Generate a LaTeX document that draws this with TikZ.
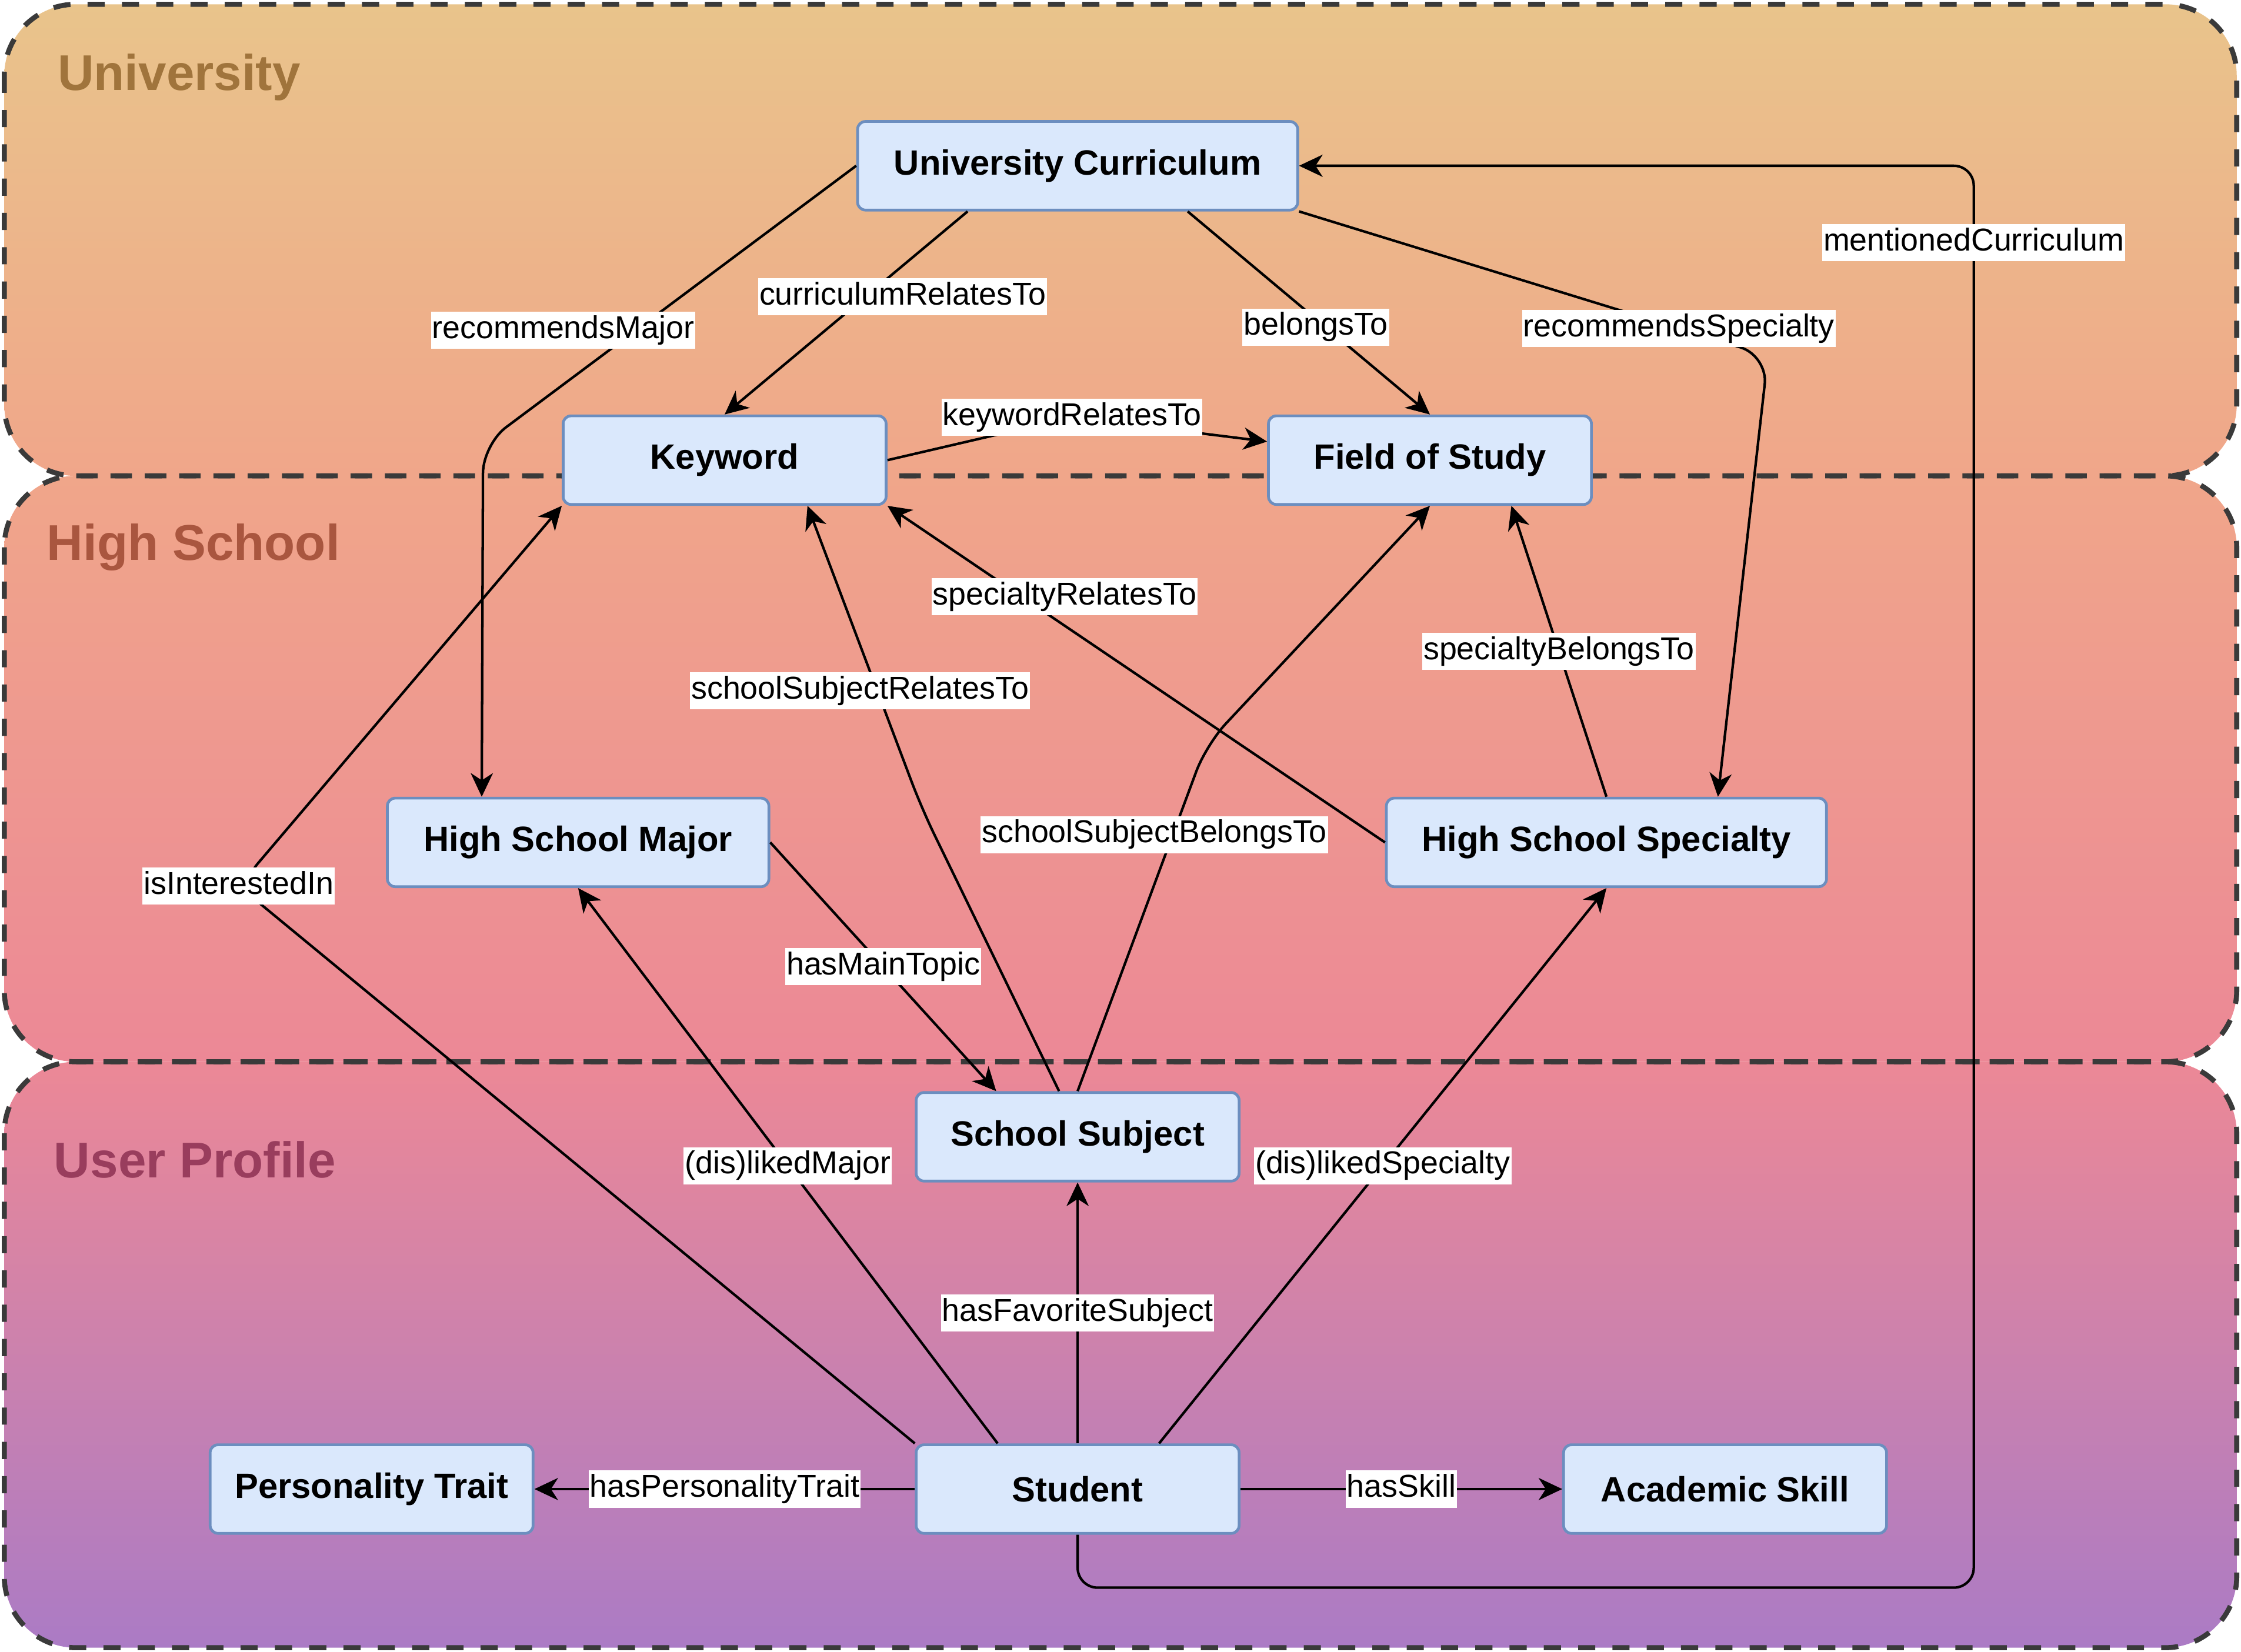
\documentclass[tikz,border=0pt]{standalone}
\usepackage{fontspec}
\setmainfont{Liberation Sans}
\usepackage{tikz}
\usetikzlibrary{positioning,calc,arrows.meta}
\definecolor{boxfill}{HTML}{DAE8FC}
\definecolor{boxline}{HTML}{6C8EBF}
\definecolor{laneline}{HTML}{3A3A3A}
\definecolor{uniTop}{HTML}{E9C48B}
\definecolor{uniBottom}{HTML}{F0A68A}
\definecolor{hsBottom}{HTML}{EC8896}
\definecolor{upBottom}{HTML}{AB7BC5}
\definecolor{uniText}{HTML}{A0743C}
\definecolor{hsText}{HTML}{A9563F}
\definecolor{upText}{HTML}{993D5D}
\tikzset{
	concept/.style={draw=boxline, fill=boxfill, line width=1.1pt, rounded corners=0.11cm, minimum height=1.24cm, minimum width=4.52cm, inner sep=0, font=\fontsize{14}{16}\selectfont\bfseries},
	widebox/.style={minimum width=6.16cm},
	midbox/.style={minimum width=5.34cm},
	rel/.style={draw, line width=1pt, -{Stealth[length=0.33cm, width=0.31cm, inset=0.1cm]}, rounded corners=0.4cm},
	lbl/.style={sharp corners, fill=white, inner xsep=0.5pt, inner ysep=1pt, text height=9.6pt, text depth=3.2pt, font=\fontsize{12.6}{15}\selectfont},
	lane/.style={draw=laneline, line width=2pt, dash pattern=on 0.24cm off 0.24cm, rounded corners=1cm},
	lanetitle/.style={anchor=base west, inner sep=0, font=\fontsize{20}{24}\selectfont\bfseries}
}

\begin{document}
\begin{tikzpicture}[x=0.02cm, y=-0.02cm]
	\useasboundingbox (0,0) rectangle (1568,1156);
	
	\path[top color=uniTop, bottom color=uniBottom, rounded corners=1cm] (3,3) rectangle (1565,333);
	\path[top color=uniBottom, bottom color=hsBottom, rounded corners=1cm] (3,333) rectangle (1565,743);
	\path[top color=hsBottom, bottom color=upBottom, rounded corners=1cm] (3,743) rectangle (1565,1153);
	\draw[lane] (3,3) rectangle (1565,333);
	\draw[lane] (3,333) rectangle (1565,743);
	\draw[lane] (3,743) rectangle (1565,1153);
	
	\node[lanetitle, text=uniText] (uniTitle) at (40,63) {University};
	\node[lanetitle, text=hsText] (hsTitle) at (32.5,392) {High School};
	\node[lanetitle, text=upText] (upTitle) at (37.5,824) {User Profile};
	
	\node[concept, widebox] (uc) at (754,116) {University Curriculum};
	\node[concept] (kw) at (507,322) {Keyword};
	\node[concept] (fos) at (1000.5,322) {Field of Study};
	\node[concept, midbox] (hsm) at (404.5,589.5) {High School Major};
	\node[concept, widebox] (hss) at (1124,589.5) {High School Specialty};
	\node[concept] (ss) at (754,795.5) {School Subject};
	\node[concept] (pt) at (260,1042) {Personality Trait};
	\node[concept] (st) at (754,1042) {Student};
	\node[concept] (as) at (1207,1042) {Academic Skill};
	
	\draw[rel] (uc.west) -- node[lbl, pos=0.59, xshift=-1.02cm] (lRecMajor) {recommendsMajor} (338,311) -- ($(hsm.north west)+(67,0)$);
	\draw[rel] ($(uc.south)+(-77,0)$) -- node[lbl, pos=0.42, xshift=0.52cm] (lCurRel) {curriculumRelatesTo} (kw.north);
	\draw[rel] ($(uc.south)+(77,0)$) -- node[lbl, pos=0.57, xshift=-0.14cm] (lBelongs) {belongsTo} (fos.north);
	\draw[rel] (uc.south east) -- node[lbl, pos=0.81] (lRecSpec) {recommendsSpecialty} (1237,249) -- ($(hss.north)+(78,0)$);
	\draw[rel] (kw.east) -- (750,292) node[lbl] (lKwRel) {keywordRelatesTo} -- ($(fos.west)+(0,-13)$);
	\draw[rel] (st.north west) -- (167,620) node[lbl] (lInterest) {isInterestedIn} -- (kw.south west);
	\draw[rel] ($(ss.north)+(-13,0)$) -- (645,566) -- node[lbl, pos=0.39, xshift=-0.24cm] (lSsRel) {schoolSubjectRelatesTo} ($(kw.south)+(58,0)$);
	\draw[rel] (ss.north) -- node[lbl, pos=0.74, xshift=-0.26cm] (lSsBel) {schoolSubjectBelongsTo} (844,521) -- (fos.south);
	\draw[rel] (hss.west) -- node[lbl, pos=0.73, xshift=0.6cm] (lSpecRel) {specialtyRelatesTo} (kw.south east);
	\draw[rel] (hss.north) -- node[lbl] (lSpecBel) {specialtyBelongsTo} ($(fos.south)+(57,0)$);
	\draw[rel] (hsm.east) -- node[lbl] (lMainTopic) {hasMainTopic} ($(ss.north)+(-57,0)$);
	\draw[rel] ($(st.north)+(-56,0)$) -- node[lbl] (lLikedMajor) {(dis)likedMajor} (hsm.south);
	\draw[rel] ($(st.north)+(57,0)$) -- node[lbl] (lLikedSpec) {(dis)likedSpecialty} (hss.south);
	\draw[rel] (st.north) -- node[lbl] (lFavSubj) {hasFavoriteSubject} (ss.south);
	\draw[rel] (st.west) -- node[lbl] (lTrait) {hasPersonalityTrait} (pt.east);
	\draw[rel] (st.east) -- node[lbl] (lSkill) {hasSkill} (as.west);
	\coordinate (loopCorner) at (1381,1111);
	\draw[rel, rounded corners=0.28cm] (st.south) |- (loopCorner) |- node[lbl, pos=0.473] (lMentioned) {mentionedCurriculum} (uc.east);
\end{tikzpicture}
\end{document}
